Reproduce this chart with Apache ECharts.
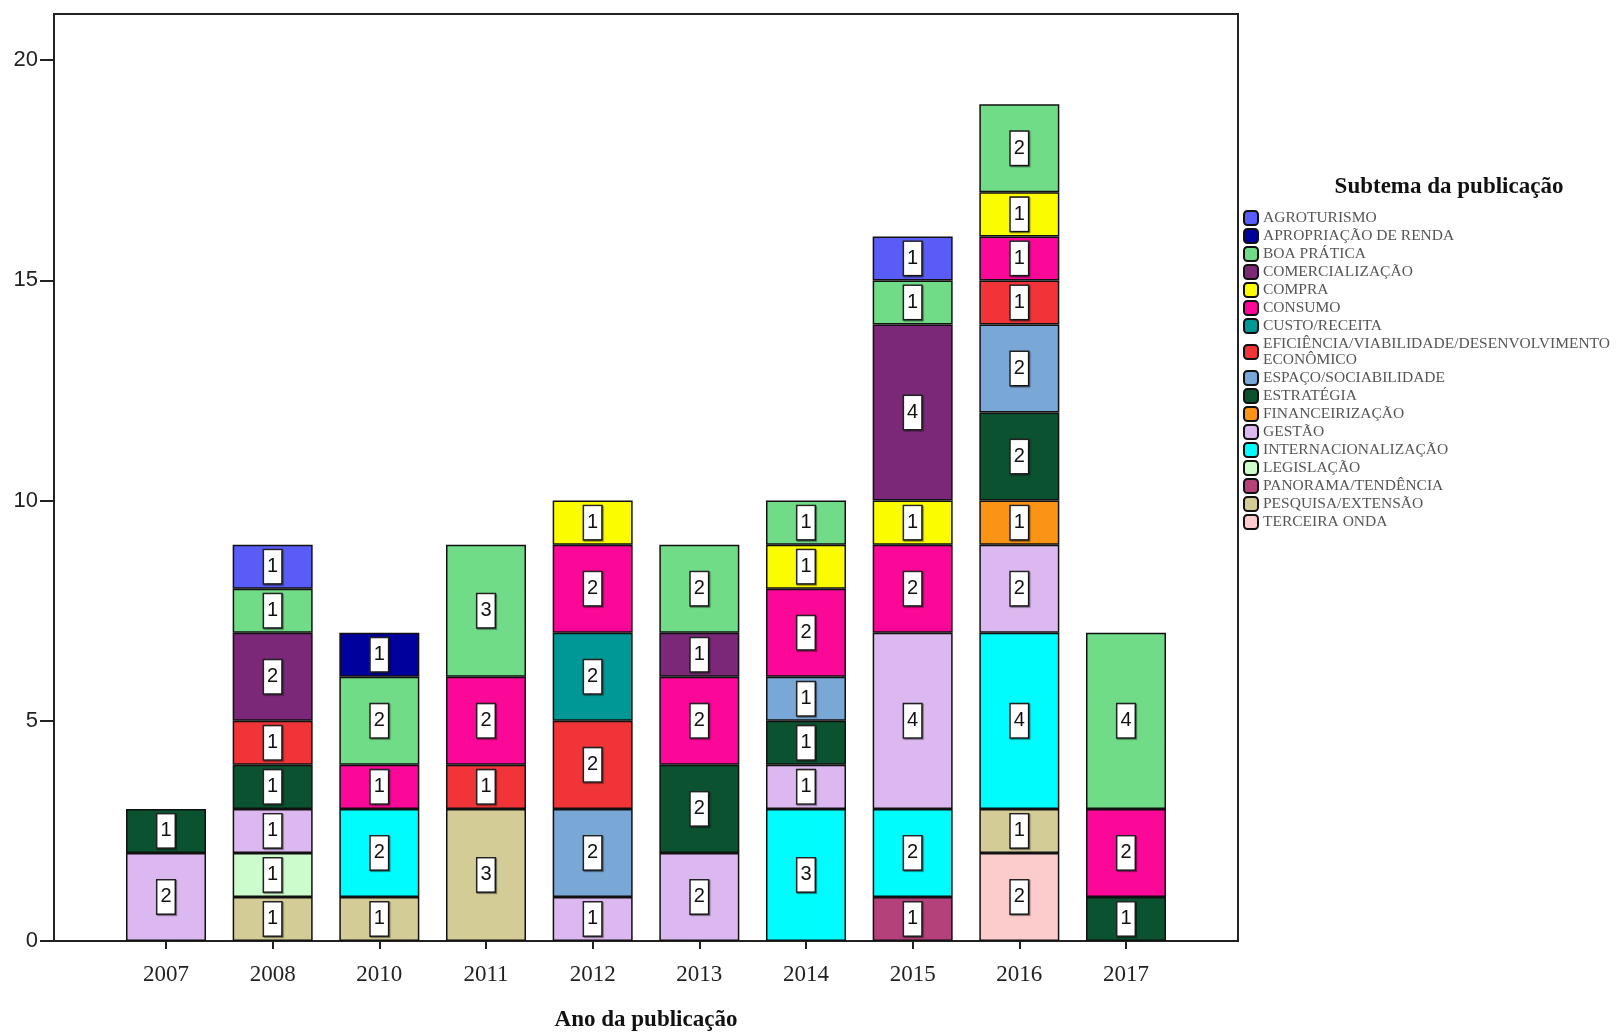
<!DOCTYPE html>
<html>
<head>
<meta charset="utf-8">
<title>Subtema da publicação por ano</title>
<script src="https://cdn.jsdelivr.net/npm/echarts@6/dist/echarts.min.js"></script>
<style>
  html, body { margin: 0; padding: 0; background: #fff; }
  #chart { width: 1624px; height: 1032px; }
</style>
</head>
<body>
<div id="chart"></div>
<script>
// Publication years (x categories)
const years = ['2007', '2008', '2010', '2011', '2012', '2013', '2014', '2015', '2016', '2017'];

// Y-axis tick values
const yTicks = [0, 5, 10, 15, 20];

// Counts per subtheme and year (null = no publication)
const agroturismo         = [null, 1, null, null, null, null, null, 1, null, null];
const apropriacaoDeRenda  = [null, null, 1, null, null, null, null, null, null, null];
const boaPratica          = [null, 1, 2, 3, null, 2, 1, 1, 2, 4];
const comercializacao     = [null, 2, null, null, null, 1, null, 4, null, null];
const compra              = [null, null, null, null, 1, null, 1, 1, 1, null];
const consumo             = [null, null, 1, 2, 2, 2, 2, 2, 1, 2];
const custoReceita        = [null, null, null, null, 2, null, null, null, null, null];
const eficiencia          = [null, 1, null, 1, 2, null, null, null, 1, null];
const espacoSociabilidade = [null, null, null, null, 2, null, 1, null, 2, null];
const estrategia          = [1, 1, null, null, null, 2, 1, null, 2, 1];
const financeirizacao     = [null, null, null, null, null, null, null, null, 1, null];
const gestao              = [2, 1, null, null, 1, 2, 1, 4, 2, null];
const internacionalizacao = [null, null, 2, null, null, null, 3, 2, 4, null];
const legislacao          = [null, 1, null, null, null, null, null, null, null, null];
const panoramaTendencia   = [null, null, null, null, null, null, null, 1, null, null];
const pesquisaExtensao    = [null, 1, 1, 3, null, null, null, null, 1, null];
const terceiraOnda        = [null, null, null, null, null, null, null, null, 2, null];

// Subthemes in legend order (top of legend first)
const subthemes = [
  { name: 'AGROTURISMO', values: agroturismo, color: '#5a5cf8' },
  { name: 'APROPRIAÇÃO DE RENDA', values: apropriacaoDeRenda, color: '#00009c' },
  { name: 'BOA PRÁTICA', values: boaPratica, color: '#71dc88' },
  { name: 'COMERCIALIZAÇÃO', values: comercializacao, color: '#7b2878' },
  { name: 'COMPRA', values: compra, color: '#fcfc00' },
  { name: 'CONSUMO', values: consumo, color: '#fb0898' },
  { name: 'CUSTO/RECEITA', values: custoReceita, color: '#009896' },
  { name: 'EFICIÊNCIA/VIABILIDADE/DESENVOLVIMENTO ECONÔMICO', values: eficiencia, color: '#f03438' },
  { name: 'ESPAÇO/SOCIABILIDADE', values: espacoSociabilidade, color: '#79a7d6' },
  { name: 'ESTRATÉGIA', values: estrategia, color: '#0b5230' },
  { name: 'FINANCEIRIZAÇÃO', values: financeirizacao, color: '#fb9316' },
  { name: 'GESTÃO', values: gestao, color: '#dcb8f0' },
  { name: 'INTERNACIONALIZAÇÃO', values: internacionalizacao, color: '#00fcfc' },
  { name: 'LEGISLAÇÃO', values: legislacao, color: '#ccfccc' },
  { name: 'PANORAMA/TENDÊNCIA', values: panoramaTendencia, color: '#b5417a' },
  { name: 'PESQUISA/EXTENSÃO', values: pesquisaExtensao, color: '#d4cc96' },
  { name: 'TERCEIRA ONDA', values: terceiraOnda, color: '#fccccc' }
];

const serif = 'Liberation Serif, Times New Roman, serif';
const sans = 'Liberation Sans, Arial, sans-serif';

const Y_MAX = 21.05;

// Outer frame spans 11.1 category bands; the bars sit in the middle 10 bands
const FRAME_L = 54, FRAME_R = 1238, FRAME_T = 14, FRAME_B = 941;
const band = (FRAME_R - FRAME_L) / 11.1;
const innerL = FRAME_L + 0.55 * band;
const innerR = FRAME_L + 10.55 * band;

// Stack from the bottom: last legend entry sits lowest in each bar
const series = subthemes.slice().reverse().map(s => ({
  name: s.name,
  type: 'bar',
  stack: 'total',
  xAxisIndex: 1,
  yAxisIndex: 1,
  barWidth: 80,
  data: s.values,
  itemStyle: { color: s.color, borderColor: '#111', borderWidth: 1.5 },
  label: {
    show: true,
    position: 'inside',
    formatter: '{c}',
    fontFamily: sans,
    fontSize: 20,
    lineHeight: 22,
    color: '#111',
    backgroundColor: '#fff',
    borderColor: '#222',
    borderWidth: 1.5,
    padding: [6, 3, 5, 3],
    shadowColor: 'rgba(0,0,0,0.45)',
    shadowOffsetX: 1,
    shadowOffsetY: 1,
    shadowBlur: 1
  },
  emphasis: { disabled: true }
}));

const chart = echarts.init(document.getElementById('chart'), null, { renderer: 'canvas' });
chart.setOption({
  animation: false,
  backgroundColor: '#fff',
  grid: [
    {
      left: FRAME_L, right: 1624 - FRAME_R, top: FRAME_T, bottom: 1032 - FRAME_B,
      outerBoundsMode: 'none', containLabel: false,
      show: true, borderColor: '#222', borderWidth: 2, backgroundColor: 'transparent'
    },
    {
      left: innerL, right: 1624 - innerR, top: FRAME_T, bottom: 1032 - FRAME_B,
      outerBoundsMode: 'none', containLabel: false
    }
  ],
  xAxis: [
    {
      gridIndex: 0, type: 'value', min: 0, max: 1, show: false
    },
    {
      gridIndex: 1,
      type: 'category',
      data: years,
      axisLine: { show: false },
      axisTick: { show: true, alignWithLabel: true, length: 8, lineStyle: { color: '#222', width: 2 } },
      axisLabel: { fontFamily: serif, fontSize: 23, color: '#222', margin: 22 },
      splitLine: { show: false },
      name: 'Ano da publicação',
      nameLocation: 'middle',
      nameGap: 68,
      nameTextStyle: { fontFamily: serif, fontWeight: 'bold', fontSize: 23, color: '#111' }
    }
  ],
  yAxis: [
    {
      gridIndex: 0,
      type: 'value',
      min: 0,
      max: Y_MAX,
      interval: 5,
      splitLine: { show: false },
      axisLine: { show: true, onZero: false, lineStyle: { color: '#222', width: 2 } },
      axisTick: { show: true, customValues: yTicks, length: 14, lineStyle: { color: '#222', width: 2 } },
      axisLabel: { customValues: yTicks, fontFamily: sans, fontSize: 22, color: '#222', margin: 16 }
    },
    {
      gridIndex: 1, type: 'value', min: 0, max: Y_MAX, show: false
    }
  ],
  legend: {
    orient: 'vertical',
    left: 1238,
    top: 205,
    itemWidth: 14,
    itemHeight: 14,
    itemGap: 2,
    selectedMode: false,
    data: subthemes.map(s => s.name),
    formatter: n => n.replace('DESENVOLVIMENTO ECONÔMICO', 'DESENVOLVIMENTO\nECONÔMICO'),
    textStyle: { fontFamily: serif, fontSize: 15.5, lineHeight: 16, color: '#555' }
  },
  graphic: [{
    type: 'text',
    x: 1449,
    y: 187,
    style: {
      text: 'Subtema da publicação',
      fontFamily: serif, fontWeight: 'bold', fontSize: 23, fill: '#111',
      align: 'center', verticalAlign: 'middle'
    }
  }],
  series: series
});
</script>
</body>
</html>
